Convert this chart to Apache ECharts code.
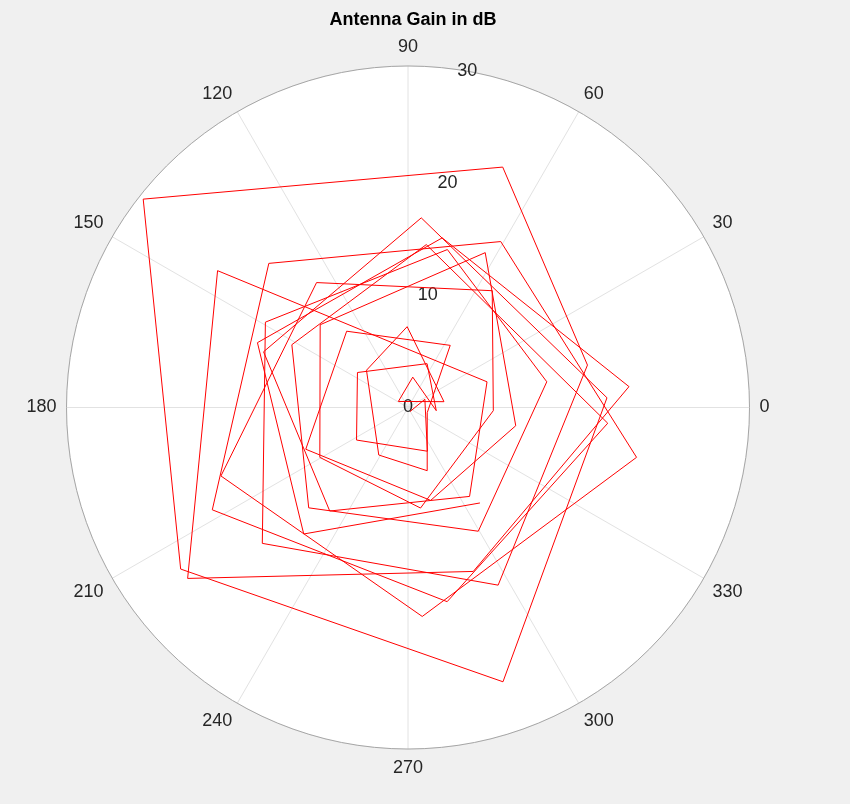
<!DOCTYPE html>
<html>
<head>
    <meta charset="utf-8">
    <title>Antenna Gain in dB</title>
    <script src="https://cdn.jsdelivr.net/npm/echarts@6/dist/echarts.min.js"></script>
    <style>
        html, body { margin: 0; padding: 0; background: #f0f0f0; }
        #main { width: 850px; height: 804px; }
    </style>
</head>
<body>
<div id="main"></div>
<script type="text/javascript">
    // angle of each point in degrees
    var thetaDeg = [296, 26, 293.9, 212.3, 145.3, 66.5, 353.6, 81.1, 148, 9.2,
        90.6, 138.1, 238.4, 286.9, 345, 55.8, 128.8, 202.2, 283.7, 350.4,
        63.5, 136.7, 209.5, 277.1, 357.9, 54.2, 126.2, 200.1, 273.9, 347.7,
        60.8, 134.0, 207.6, 281.4, 355.5, 83.6, 151.6, 225.3, 299.6, 10.5,
        76.0, 149.1, 223.0, 296.9, 13.3, 68.5, 141.8, 215.4, 289.1, 2.8,
        86.0, 158.9, 232.9, 304.7, 18.0, 144.3, 217.8, 291.7, 5.4, 78.6,
        156.7, 230.5, 307.0];
    // gain in dB for each point
    var gainDb = [0.4, 1.65, 4.2, 5.35, 5.4, 4.2, 2.5, 2.7, 1.0, 3.2,
        7.1, 4.9, 4.9, 5.8, 1.75, 6.6, 8.6, 9.7, 8.4, 9.6,
        15.2, 10.6, 8.9, 8.9, 7.5, 12.65, 13.6, 17.5, 18.4, 20.55,
        16.7, 17.6, 19.4, 17.4, 17.6, 14.4, 11.6, 12.4, 12.5, 12.4,
        14.3, 14.6, 17.5, 17.5, 16.2, 22.7, 29.6, 24.5, 25.5, 17.5,
        16.7, 13.6, 11.4, 9.5, 7.3, 20.6, 24.5, 15.5, 19.5, 15.2,
        14.4, 14.4, 10.5];
    var rMax = 30;
    var rStep = 10;
    var thetaStep = 30;

    var pts = [];
    for (var i = 0; i < thetaDeg.length; i++) {
        pts.push([gainDb[i], thetaDeg[i]]);
    }

    var txt = '#262626';
    var fnt = '"Liberation Sans", Arial, Helvetica, sans-serif';

    var myChart = echarts.init(document.getElementById('main'), null, {renderer: 'canvas'});
    var option = {
        backgroundColor: '#f0f0f0',
        animation: false,
        title: {
            text: 'Antenna Gain in dB',
            left: 408,
            textAlign: 'center',
            top: 6,
            textStyle: {fontSize: 18, fontWeight: 'bold', color: '#000', fontFamily: fnt}
        },
        polar: [
            {center: [408, 407.5], radius: 341.5},
            {center: [408, 407.5], radius: 341.5}
        ],
        angleAxis: [
            {
                polarIndex: 0,
                type: 'value',
                min: 0,
                max: 360,
                interval: thetaStep,
                startAngle: 0,
                clockwise: false,
                axisLine: {lineStyle: {color: '#a6a6a6', width: 1}},
                axisTick: {show: false},
                axisLabel: {margin: 10, fontSize: 18, color: txt, fontFamily: fnt},
                splitLine: {lineStyle: {color: '#e2e2e2', width: 1}}
            },
            {
                // only used to put the radius labels on the 80 degree ray
                polarIndex: 1,
                type: 'value',
                min: 0,
                max: 360,
                startAngle: 80,
                clockwise: false,
                show: false
            }
        ],
        radiusAxis: [
            {
                polarIndex: 0,
                type: 'value',
                min: 0,
                max: rMax,
                interval: rStep,
                axisLine: {show: false},
                axisTick: {show: false},
                axisLabel: {show: false},
                splitLine: {lineStyle: {color: '#e2e2e2', width: 1}},
                splitArea: {show: true, areaStyle: {color: ['#ffffff']}}
            },
            {
                polarIndex: 1,
                type: 'value',
                min: 0,
                max: rMax,
                interval: rStep,
                axisLine: {show: false},
                axisTick: {show: false},
                splitLine: {show: false},
                axisLabel: {
                    margin: 0,
                    fontSize: 18,
                    color: txt,
                    fontFamily: fnt,
                    align: 'center',
                    verticalAlign: 'middle'
                }
            }
        ],
        series: [
            {
                type: 'line',
                coordinateSystem: 'polar',
                polarIndex: 0,
                data: pts,
                symbol: 'none',
                lineStyle: {color: '#ff0000', width: 1},
                z: 5
            }
        ]
    };
    myChart.setOption(option);
</script>
</body>
</html>
